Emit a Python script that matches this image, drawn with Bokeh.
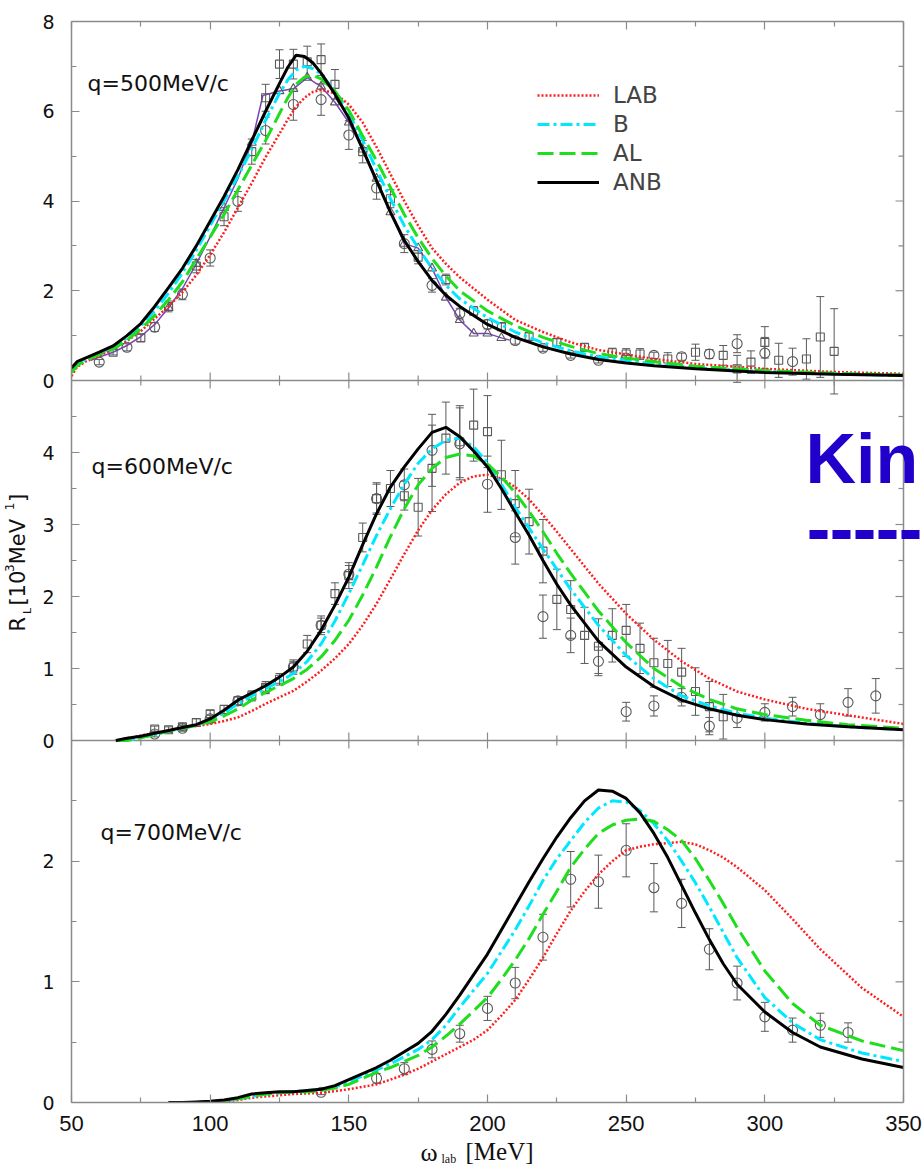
import math
from bokeh.plotting import figure
from bokeh.layouts import column, row
from bokeh.models import (Range1d, LinearAxis, FixedTicker, Label, Legend, LegendItem,
                          Whisker, TeeHead, ColumnDataSource, Span, Arrow)
from bokeh.embed import file_html
from bokeh.resources import INLINE

# ------------------------------------------------------------------ data
x_major_ticks = [50, 100, 150, 200, 250, 300, 350]
x_minor_ticks = [75, 125, 175, 225, 275, 325]

# ---------------- q = 500 MeV/c
omega_500 = [50, 52, 55, 60, 65, 70, 75, 80, 85, 90, 95, 100, 105, 110, 115, 120, 125, 128, 131, 134,
             137, 140, 145, 150, 155, 160, 165, 170, 175, 180, 185, 190, 200, 210, 220, 230, 240, 250,
             260, 275, 300, 325, 350]
lab_500 = [0.10, 0.30, 0.42, 0.55, 0.70, 0.88, 1.10, 1.38, 1.65, 1.97, 2.35, 2.80, 3.30, 3.85, 4.40,
           4.98, 5.50, 5.82, 6.10, 6.30, 6.43, 6.48, 6.40, 6.15, 5.75, 5.20, 4.60, 4.00, 3.45, 2.95,
           2.60, 2.30, 1.80, 1.35, 1.08, 0.85, 0.68, 0.58, 0.48, 0.37, 0.26, 0.19, 0.15]
b_500 = [0.20, 0.35, 0.47, 0.60, 0.73, 0.95, 1.22, 1.55, 1.95, 2.40, 2.90, 3.45, 4.00, 4.55, 5.15,
         5.80, 6.40, 6.70, 6.92, 7.00, 6.95, 6.83, 6.45, 5.95, 5.35, 4.70, 4.05, 3.45, 2.95, 2.50,
         2.12, 1.82, 1.40, 1.08, 0.84, 0.66, 0.53, 0.44, 0.37, 0.28, 0.20, 0.15, 0.11]
al_500 = [0.18, 0.33, 0.45, 0.58, 0.70, 0.90, 1.15, 1.45, 1.80, 2.20, 2.70, 3.20, 3.70, 4.25, 4.80,
          5.35, 5.95, 6.30, 6.60, 6.76, 6.80, 6.72, 6.45, 6.02, 5.45, 4.90, 4.30, 3.70, 3.18, 2.72,
          2.33, 2.00, 1.55, 1.22, 0.96, 0.76, 0.60, 0.50, 0.42, 0.32, 0.22, 0.16, 0.12]
anb_500 = [0.28, 0.42, 0.50, 0.63, 0.77, 1.00, 1.27, 1.65, 2.07, 2.50, 3.00, 3.55, 4.10, 4.70, 5.35,
           6.00, 6.62, 6.98, 7.25, 7.22, 7.08, 6.85, 6.38, 5.85, 5.15, 4.45, 3.75, 3.12, 2.65, 2.23,
           1.90, 1.65, 1.25, 0.96, 0.75, 0.59, 0.47, 0.39, 0.33, 0.26, 0.18, 0.14, 0.11]

purple_x_500 = [57, 60, 65, 70, 75, 80, 85, 90, 95, 100, 105, 110, 115, 119, 125, 130, 135, 140, 145,
                150, 155, 160, 165, 170, 175, 180, 185, 190, 195, 200, 205, 208]
purple_y_500 = [0.45, 0.52, 0.63, 0.78, 0.98, 1.25, 1.62, 2.05, 2.60, 3.20, 3.85, 4.50, 5.30, 6.35,
                6.45, 6.50, 6.75, 6.55, 6.20, 5.75, 5.15, 4.50, 3.75, 3.05, 2.95, 2.50, 1.85, 1.35,
                1.05, 1.05, 0.95, 0.90]
tri_x_500 = [85, 95, 105, 115, 125, 130, 135, 140, 145, 150, 155, 160, 165, 170, 175, 180, 185, 190,
             195, 200, 205]
tri_y_500 = [1.62, 2.60, 3.85, 5.30, 6.45, 6.50, 6.75, 6.55, 6.20, 5.75, 5.15, 4.50, 3.75, 3.05,
             2.95, 2.50, 1.85, 1.35, 1.05, 1.05, 0.95]

circ_x_500 = [60, 70, 80, 90, 100, 110, 120, 130, 140, 150, 160, 170, 180, 190, 200, 210, 220, 230,
              240, 250, 260, 270, 280, 290, 300, 310]
circ_y_500 = [0.41, 0.74, 1.19, 1.92, 2.73, 3.99, 5.57, 6.15, 6.26, 5.47, 4.29, 3.05, 2.12, 1.49,
              1.25, 0.89, 0.72, 0.56, 0.45, 0.50, 0.56, 0.53, 0.59, 0.82, 0.61, 0.42]
circ_e_500 = [0.06, 0.08, 0.10, 0.12, 0.18, 0.22, 0.30, 0.35, 0.35, 0.32, 0.25, 0.20, 0.15, 0.12,
              0.10, 0.08, 0.07, 0.06, 0.06, 0.06, 0.07, 0.08, 0.10, 0.20, 0.35, 0.30]

sq_x_500 = [65, 75, 85, 95, 105, 115, 120, 125, 130, 135, 140, 145, 155, 165, 175, 185, 195, 205, 215,
            225, 235, 245, 250, 255, 265, 275, 285, 290, 295, 300, 305, 315, 320, 325]
sq_y_500 = [0.63, 0.95, 1.65, 2.55, 3.65, 5.10, 6.30, 7.05, 7.05, 7.10, 7.15, 6.60, 5.10, 4.05, 2.75,
            2.25, 1.55, 1.20, 0.98, 0.85, 0.74, 0.62, 0.59, 0.59, 0.48, 0.63, 0.56, 0.26, 0.41, 0.85,
            0.45, 0.48, 0.97, 0.65]
sq_e_500 = [0.06, 0.08, 0.12, 0.15, 0.20, 0.28, 0.30, 0.32, 0.33, 0.35, 0.35, 0.33, 0.25, 0.20, 0.15,
            0.12, 0.10, 0.08, 0.08, 0.08, 0.08, 0.10, 0.12, 0.12, 0.14, 0.18, 0.22, 0.30, 0.25, 0.35,
            0.38, 0.45, 0.90, 0.95]

# ---------------- q = 600 MeV/c
omega_600 = [66, 70, 75, 80, 85, 90, 95, 100, 105, 110, 115, 120, 125, 130, 135, 140, 145, 150, 155,
             160, 165, 170, 175, 180, 185, 190, 195, 200, 205, 210, 215, 220, 225, 230, 240, 250,
             260, 270, 280, 290, 300, 315, 330, 350]
lab_600 = [0.00, 0.03, 0.07, 0.10, 0.14, 0.18, 0.20, 0.23, 0.27, 0.32, 0.41, 0.51, 0.60, 0.69, 0.82,
           0.97, 1.14, 1.34, 1.60, 1.90, 2.24, 2.59, 2.92, 3.20, 3.42, 3.58, 3.67, 3.69, 3.64, 3.52,
           3.35, 3.13, 2.90, 2.66, 2.18, 1.76, 1.40, 1.10, 0.86, 0.68, 0.57, 0.44, 0.35, 0.23]
b_600 = [0.00, 0.00, 0.04, 0.08, 0.13, 0.17, 0.21, 0.28, 0.38, 0.51, 0.62, 0.72, 0.82, 0.93, 1.10,
         1.34, 1.66, 2.04, 2.44, 2.85, 3.22, 3.56, 3.85, 4.05, 4.17, 4.20, 4.08, 3.86, 3.56, 3.24,
         2.95, 2.66, 2.38, 2.10, 1.60, 1.18, 0.86, 0.62, 0.48, 0.38, 0.31, 0.24, 0.19, 0.15]
al_600 = [0.00, 0.00, 0.04, 0.08, 0.13, 0.17, 0.21, 0.26, 0.34, 0.44, 0.56, 0.67, 0.76, 0.86, 0.99,
          1.16, 1.39, 1.67, 2.02, 2.41, 2.83, 3.22, 3.55, 3.78, 3.93, 3.98, 3.95, 3.84, 3.66, 3.44,
          3.18, 2.90, 2.60, 2.32, 1.80, 1.36, 1.00, 0.75, 0.57, 0.44, 0.36, 0.28, 0.22, 0.17]
anb_600 = [0.00, 0.03, 0.06, 0.10, 0.14, 0.18, 0.22, 0.30, 0.42, 0.56, 0.66, 0.76, 0.88, 1.02, 1.24,
           1.53, 1.88, 2.27, 2.72, 3.15, 3.52, 3.80, 4.05, 4.28, 4.35, 4.22, 4.02, 3.80, 3.50, 3.17,
           2.85, 2.50, 2.17, 1.88, 1.38, 1.02, 0.75, 0.56, 0.44, 0.35, 0.29, 0.23, 0.19, 0.15]

circ_x_600 = [80, 90, 100, 110, 120, 130, 140, 150, 160, 170, 180, 190, 200, 210, 220, 230, 240, 250,
              260, 270, 280, 290, 300, 310, 320, 330, 340]
circ_y_600 = [0.09, 0.17, 0.30, 0.55, 0.72, 1.02, 1.60, 2.31, 3.36, 3.55, 4.03, 4.12, 3.56, 2.82,
              1.72, 1.46, 1.10, 0.40, 0.48, 0.60, 0.20, 0.31, 0.39, 0.47, 0.36, 0.53, 0.62]
circ_e_600 = [0.04, 0.04, 0.05, 0.06, 0.07, 0.08, 0.10, 0.12, 0.20, 0.22, 0.50, 0.50, 0.39, 0.37,
              0.30, 0.24, 0.20, 0.13, 0.14, 0.12, 0.12, 0.13, 0.12, 0.13, 0.15, 0.19, 0.24]

sq_x_600 = [80, 85, 90, 95, 100, 105, 110, 115, 120, 125, 130, 135, 140, 145, 150, 155, 160, 165, 170,
            175, 180, 185, 190, 195, 200, 205, 210, 215, 220, 225, 230, 235, 240, 245, 250, 255,
            260, 265, 270, 275, 280, 285]
sq_y_600 = [0.16, 0.15, 0.19, 0.25, 0.37, 0.43, 0.55, 0.62, 0.74, 0.85, 1.02, 1.34, 1.60, 2.04, 2.29,
            2.82, 3.36, 3.50, 3.40, 3.24, 3.78, 4.20, 4.15, 4.38, 4.29, 3.69, 3.29, 3.04, 2.63, 1.96,
            1.82, 1.46, 1.31, 1.46, 1.53, 1.28, 1.08, 1.07, 0.95, 0.68, 0.47, 0.33]
sq_e_600 = [0.04, 0.04, 0.04, 0.05, 0.05, 0.06, 0.06, 0.07, 0.08, 0.08, 0.10, 0.12, 0.13, 0.15, 0.18,
            0.20, 0.22, 0.25, 0.20, 0.40, 0.60, 0.50, 0.50, 0.50, 0.50, 0.48, 0.46, 0.45, 0.44, 0.42,
            0.40, 0.39, 0.38, 0.37, 0.36, 0.35, 0.34, 0.32, 0.33, 0.33, 0.35, 0.31]

# ---------------- q = 700 MeV/c
omega_700 = [85, 90, 95, 100, 105, 110, 115, 120, 125, 130, 135, 140, 145, 150, 155, 160, 165, 170,
             175, 180, 185, 190, 195, 200, 205, 210, 215, 220, 225, 230, 235, 240, 245, 250, 255,
             260, 265, 270, 275, 280, 285, 290, 300, 310, 320, 335, 350]
lab_700 = [0.00, 0.00, 0.00, 0.00, 0.01, 0.02, 0.04, 0.05, 0.06, 0.07, 0.075, 0.08, 0.095, 0.11,
           0.13, 0.15, 0.19, 0.23, 0.28, 0.34, 0.40, 0.46, 0.52, 0.60, 0.72, 0.85, 1.02, 1.20, 1.40,
           1.59, 1.75, 1.89, 2.00, 2.09, 2.12, 2.14, 2.15, 2.16, 2.14, 2.09, 2.03, 1.95, 1.76, 1.52,
           1.27, 0.95, 0.71]
b_700 = [0.00, 0.00, 0.00, 0.005, 0.01, 0.03, 0.05, 0.07, 0.08, 0.09, 0.10, 0.11, 0.13, 0.17, 0.22,
         0.27, 0.32, 0.38, 0.44, 0.52, 0.64, 0.79, 0.93, 1.07, 1.25, 1.43, 1.63, 1.84, 2.02, 2.17,
         2.32, 2.44, 2.50, 2.49, 2.42, 2.31, 2.17, 2.00, 1.82, 1.62, 1.41, 1.20, 0.87, 0.66, 0.52,
         0.41, 0.34]
al_700 = [0.00, 0.00, 0.00, 0.005, 0.01, 0.03, 0.05, 0.07, 0.08, 0.09, 0.09, 0.10, 0.12, 0.15, 0.20,
          0.25, 0.29, 0.34, 0.39, 0.46, 0.55, 0.65, 0.76, 0.87, 1.02, 1.18, 1.36, 1.56, 1.75, 1.95,
          2.10, 2.23, 2.30, 2.34, 2.35, 2.33, 2.26, 2.17, 2.02, 1.84, 1.65, 1.45, 1.09, 0.82, 0.64,
          0.51, 0.43]
anb_700 = [0.00, 0.00, 0.005, 0.01, 0.02, 0.04, 0.07, 0.08, 0.09, 0.09, 0.10, 0.11, 0.14, 0.19, 0.24,
           0.29, 0.35, 0.42, 0.49, 0.59, 0.73, 0.89, 1.06, 1.23, 1.43, 1.63, 1.83, 2.02, 2.20, 2.36,
           2.50, 2.59, 2.58, 2.52, 2.40, 2.23, 2.03, 1.80, 1.57, 1.35, 1.15, 0.98, 0.75, 0.58, 0.46,
           0.36, 0.29]

circ_x_700 = [140, 160, 170, 180, 190, 200, 210, 220, 230, 240, 250, 260, 270, 280, 290, 300, 310,
              320, 330]
circ_y_700 = [0.085, 0.20, 0.28, 0.44, 0.57, 0.78, 0.99, 1.37, 1.85, 1.83, 2.09, 1.78, 1.65, 1.27,
              0.99, 0.71, 0.60, 0.64, 0.58]
circ_e_700 = [0.02, 0.04, 0.05, 0.07, 0.07, 0.10, 0.13, 0.19, 0.23, 0.22, 0.22, 0.20, 0.20, 0.17,
              0.14, 0.12, 0.10, 0.10, 0.08]

# y ticks of each panel (top -> bottom)
yticks_500 = [0, 2, 4, 6, 8]
yminor_500 = [1, 3, 5, 7]
yticks_600 = [0, 1, 2, 3, 4, 5]
yminor_600 = [0.5, 1.5, 2.5, 3.5, 4.5]
yticks_700 = [0, 1, 2, 3]
yminor_700 = [0.5, 1.5, 2.5]

legend_labels = ["LAB", "B", "AL", "ANB"]
panel_titles = ["q=500MeV/c", "q=600MeV/c", "q=700MeV/c"]

# ------------------------------------------------------------------ layout / style
TOTAL_W, TOTAL_H = 922, 1167
YT_W = 34                       # strip holding the y-axis title
MAIN_W = TOTAL_W - YT_W         # main plot, frame runs to the right edge of the picture
MAIN_H = 1137
XT_H = TOTAL_H - MAIN_H         # strip holding the x-axis title
FRAME_LEFT, FRAME_RIGHT_AXIS = 71, 903
FRAME_TOP, FRAME_BOTTOM = 21, 1102
FRAME_PX = FRAME_BOTTOM - FRAME_TOP
PX_PER_X = (FRAME_RIGHT_AXIS - FRAME_LEFT) / 300.0
BASE_SHIFT = 0.355   # label anchor sits this many em above the glyph baseline

GRAY = "#8a8a8a"
MARK = "#5a5a5a"
RED, CYAN, GREEN, BLACK, PURPLE = "#ff1e1e", "#00e8ff", "#1ede1e", "#000000", "#7a45b8"
BLUE = "#2200cc"

panels = [
    dict(name="p500", lo=0, hi=8, h=359, b=722, major=yticks_500, minor=yminor_500),
    dict(name="p600", lo=0, hi=5, h=360, b=362, major=yticks_600, minor=yminor_600),
    dict(name="p700", lo=0, hi=3, h=362, b=0, major=yticks_700, minor=yminor_700),
]


def to_main(v, pn):
    return round(pn["b"] + (v - pn["lo"]) / (pn["hi"] - pn["lo"]) * pn["h"], 6)


def panel_range(pn):
    scale = (pn["hi"] - pn["lo"]) / pn["h"]
    start = pn["lo"] - pn["b"] * scale
    return Range1d(start, start + FRAME_PX * scale)


def px_x(px):      # page pixel -> main x data
    return 50 + (px - FRAME_LEFT) / PX_PER_X


def px_y(py):      # page pixel -> main y (pixel-like) data
    return FRAME_BOTTOM - py


def strip(w, h):
    return figure(width=w, height=h, x_range=Range1d(0, w), y_range=Range1d(0, h), title=None,
                  x_axis_type=None, y_axis_type=None, output_backend="svg", toolbar_location=None,
                  min_border=0, outline_line_color=None, background_fill_color="white",
                  border_fill_color="white")


p = figure(width=MAIN_W, height=MAIN_H, x_range=Range1d(50, px_x(TOTAL_W)),
           y_range=Range1d(0, FRAME_PX),
           x_axis_type=None, y_axis_type=None, output_backend="svg", toolbar_location=None,
           title=None, min_border_left=FRAME_LEFT - YT_W, min_border_right=0,
           min_border_top=FRAME_TOP, min_border_bottom=MAIN_H - FRAME_BOTTOM,
           background_fill_color="white", border_fill_color="white", outline_line_color=None)
p.extra_y_ranges = {pn["name"]: panel_range(pn) for pn in panels}

# ---- axes (x axes limited to 50..350, right border drawn at x = 350)
xt = FixedTicker(ticks=x_major_ticks, minor_ticks=x_minor_ticks)
common = dict(major_tick_in=8, major_tick_out=0, minor_tick_in=5, minor_tick_out=0,
              axis_line_color=GRAY, axis_line_width=1.5, major_tick_line_color=GRAY,
              minor_tick_line_color=GRAY, major_tick_line_width=1.2, minor_tick_line_width=1.2)
hidden = dict(major_label_text_font_size="0px", major_label_text_color=None, major_label_standoff=0)
p.add_layout(LinearAxis(ticker=xt, bounds=(50, 350), major_label_text_font="Liberation Sans",
                        major_label_text_font_size="22px", major_label_text_color="#111111",
                        major_label_standoff=13, **common), "below")
p.add_layout(LinearAxis(ticker=xt, bounds=(50, 350), **hidden, **common), "above")

ymaj, ymin, overrides = [], [], {}
for pn in panels:
    for v in pn["major"]:
        pos = to_main(v, pn)
        if pos not in overrides:
            overrides[pos] = str(v)
            ymaj.append(pos)
    for v in pn["minor"]:
        ymin.append(to_main(v, pn))
yt = FixedTicker(ticks=ymaj, minor_ticks=ymin)
p.add_layout(LinearAxis(ticker=yt, major_label_overrides=overrides, major_label_text_font="DejaVu Sans",
                        major_label_text_font_size="19px", major_label_text_color="#111111",
                        major_label_standoff=17, **common), "left")

# right border at x = 350 with inward ticks
p.add_layout(Span(location=350, dimension="height", line_color=GRAY, line_width=1.5))
for ticks, ln in ((ymaj, 8), (ymin, 5)):
    p.segment(x0=[350] * len(ticks), y0=ticks, x1=[350 - ln / PX_PER_X] * len(ticks), y1=ticks,
              line_color=GRAY, line_width=1.2)

# panel separators with inward ticks on both sides
for pn in panels[:-1]:
    yb = to_main(pn["lo"], pn)
    p.segment(x0=[50], y0=[yb], x1=[350], y1=[yb], line_color=GRAY, line_width=1.5)
    for ticks, ln in ((x_major_ticks, 8), (x_minor_ticks, 5)):
        p.segment(x0=ticks, y0=[yb - ln] * len(ticks), x1=ticks, y1=[yb + ln] * len(ticks),
                  line_color=GRAY, line_width=1.2)


# ---- data marks
def errbars(xs, ys, es, rng):
    src = ColumnDataSource(dict(base=xs, lower=[y - e for y, e in zip(ys, es)],
                                upper=[y + e for y, e in zip(ys, es)]))
    p.add_layout(Whisker(source=src, base="base", lower="lower", upper="upper", y_range_name=rng,
                         line_color=MARK, line_width=1, level="underlay",
                         upper_head=TeeHead(size=8, line_color=MARK, line_width=1),
                         lower_head=TeeHead(size=8, line_color=MARK, line_width=1)))


def points(xs, ys, marker, size, rng):
    p.scatter(xs, ys, marker=marker, size=size, fill_color=None, line_color=MARK,
              line_width=1.1, y_range_name=rng)


errbars(circ_x_500, circ_y_500, circ_e_500, "p500")
errbars(sq_x_500, sq_y_500, sq_e_500, "p500")
p.line(purple_x_500, purple_y_500, line_color=PURPLE, line_width=1.5, y_range_name="p500")
points(tri_x_500, tri_y_500, "triangle", 9, "p500")
points(circ_x_500, circ_y_500, "circle", 10, "p500")
points(sq_x_500, sq_y_500, "square", 8, "p500")

errbars(circ_x_600, circ_y_600, circ_e_600, "p600")
errbars(sq_x_600, sq_y_600, sq_e_600, "p600")
points(circ_x_600, circ_y_600, "circle", 10, "p600")
points(sq_x_600, sq_y_600, "square", 8, "p600")

errbars(circ_x_700, circ_y_700, circ_e_700, "p700")
points(circ_x_700, circ_y_700, "circle", 10, "p700")

styles = [
    (RED, 2.5, "2 2"),
    (CYAN, 3, "12 4 3 4"),
    (GREEN, 3, "16 6"),
    (BLACK, 3, "solid"),
]
curve_sets = [
    ("p500", omega_500, [lab_500, b_500, al_500, anb_500]),
    ("p600", omega_600, [lab_600, b_600, al_600, anb_600]),
    ("p700", omega_700, [lab_700, b_700, al_700, anb_700]),
]
legend_renderers = None
for rng, xs, ys_list in curve_sets:
    rs = []
    for ys, (col, lw, dash) in zip(ys_list, styles):
        rs.append(p.line(xs, ys, line_color=col, line_width=lw, line_dash=dash, y_range_name=rng))
    if legend_renderers is None:
        legend_renderers = rs

p.add_layout(Legend(items=[LegendItem(label=lab, renderers=[r])
                           for lab, r in zip(legend_labels, legend_renderers)],
                    location=(466, 907), orientation="vertical", padding=0, margin=0, spacing=3,
                    glyph_width=62, glyph_height=20, label_height=20, label_standoff=14,
                    label_text_font="DejaVu Sans", label_text_font_size="23px",
                    background_fill_alpha=0, border_line_alpha=0))


def main_label(t, px, py, size, font="DejaVu Sans", style="normal", color="#111111"):
    # (px, py): page position of the start of the glyph baseline
    p.add_layout(Label(x=px_x(px), y=px_y(py) + BASE_SHIFT * size, text=t, text_font=font,
                       text_font_size=f"{size}px", text_font_style=style, text_color=color,
                       text_align="left", text_baseline="alphabetic"))


# panel titles (inside the frame)
for t, (tx, ty) in zip(panel_titles, [(87, 91), (91, 474), (100, 840)]):
    main_label(t, tx, ty, 22)

# blue overlay at the right edge of the picture
main_label("Kin", 805, 483, 70, font="Liberation Sans", style="bold", color=BLUE)
p.add_layout(Arrow(x_start=px_x(809), y_start=px_y(534), x_end=px_x(TOTAL_W), y_end=px_y(534),
                   start=None, end=None, line_color=BLUE, line_width=9, line_dash="18 5"))

# left strip: y-axis title  R_L [10^3 MeV^1]  (reads upwards; pieces centred along the text)
yf = strip(YT_W, MAIN_H)
for t, bx, cy, sz in [("R", 25, 634, 21), ("L", 31, 620, 11), ("[10", 25, 596, 21),
                      ("3", 13, 575, 12), ("MeV", 25, 547, 21), ("1", 13, 510, 12),
                      ("]", 25, 501, 21)]:
    yf.add_layout(Label(x=bx - BASE_SHIFT * sz, y=MAIN_H - cy, text=t, text_font="DejaVu Sans",
                        text_font_size=f"{sz}px", text_color="#111111", angle=math.pi / 2,
                        text_align="center", text_baseline="alphabetic"))

# bottom strip: x-axis title  omega_lab [MeV]
xf = strip(TOTAL_W, XT_H)
for t, bx, by, sz in [("\u03c9", 420, 1161, 26), ("lab", 441, 1163, 12), ("[MeV]", 465, 1160, 25)]:
    xf.add_layout(Label(x=bx, y=TOTAL_H - by + BASE_SHIFT * sz, text=t, text_font="Liberation Serif",
                        text_font_size=f"{sz}px", text_color="#111111",
                        text_align="left", text_baseline="alphabetic"))

layout = column(row(yf, p), xf)
open("out.html", "w").write(file_html(layout, INLINE))
